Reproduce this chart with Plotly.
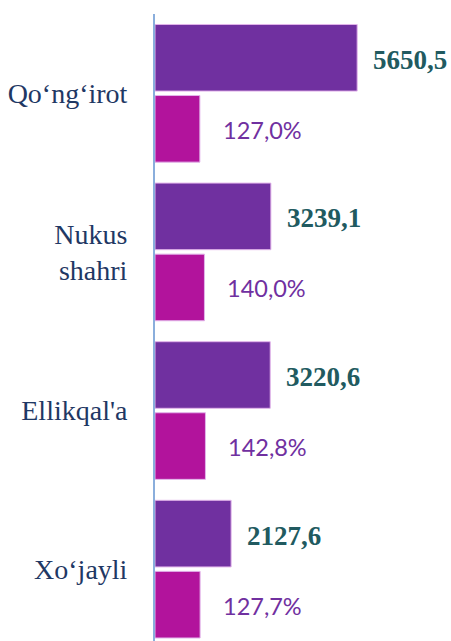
import plotly.graph_objects as go

categories = ["Qo‘ng‘irot", "Nukus<br>shahri", "Ellikqal'a", "Xo‘jayli"]
volume = [5650.5, 3239.1, 3220.6, 2127.6]
growth_pct = [127.0, 140.0, 142.8, 127.7]

PURPLE = "#7030A0"
MAGENTA = "#B2139C"
EDGE = "#E2B4EA"

fig = go.Figure()
fig.add_trace(go.Bar(
    y=categories, x=volume, orientation="h", xaxis="x", yaxis="y",
    marker=dict(color=PURPLE, line=dict(color=EDGE, width=1)),
    width=0.42, offset=-0.434, showlegend=False, hoverinfo="x+y",
))
fig.add_trace(go.Bar(
    y=categories, x=growth_pct, orientation="h", xaxis="x2", yaxis="y",
    marker=dict(color=MAGENTA, line=dict(color=EDGE, width=1)),
    width=0.42, offset=0.014, showlegend=False, hoverinfo="x+y",
))

annotations = []
for i, v in enumerate(volume):
    annotations.append(dict(
        x=v, xref="x", y=i - 0.434 + 0.21, yref="y",
        text=f"<b>{v:.1f}</b>".replace(".", ","), showarrow=False,
        xanchor="left", yanchor="middle", xshift=14, yshift=-2,
        font=dict(family="Liberation Serif", size=27, color="#215A60"),
    ))
for i, v in enumerate(growth_pct):
    annotations.append(dict(
        x=v, xref="x2", y=i + 0.014 + 0.21, yref="y",
        text=f"{v:.1f}%".replace(".", ","), showarrow=False,
        xanchor="left", yanchor="middle", xshift=21, yshift=-1,
        font=dict(family="Lato", size=23.5, color=PURPLE),
    ))

fig.update_layout(
    width=451, height=641,
    margin=dict(l=155, r=0, t=14, b=0),
    paper_bgcolor="white", plot_bgcolor="white",
    annotations=annotations,
    xaxis=dict(range=[0, 8273], visible=False, fixedrange=True),
    xaxis2=dict(range=[0, 838], overlaying="x", visible=False, fixedrange=True),
    yaxis=dict(
        type="category", categoryorder="array", categoryarray=categories,
        range=[3.453, -0.5], showline=True, linecolor="#8AAEDC", linewidth=2,
        showgrid=False, zeroline=False, ticks="", ticklabelstandoff=20,
        tickfont=dict(family="Liberation Serif", size=28, color="#1F3864"),
        fixedrange=True,
    ),
)
fig.write_html("out.html", config={"displayModeBar": False},
               post_script="document.body.style.margin='0';")
